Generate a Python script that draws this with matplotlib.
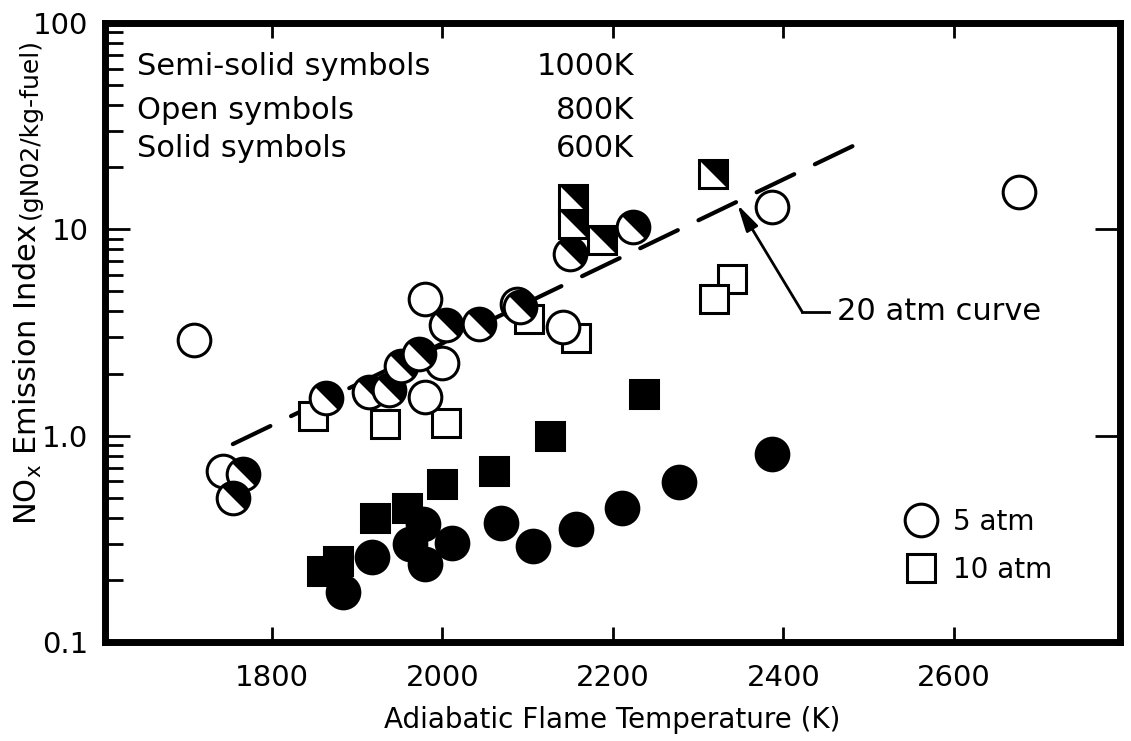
import numpy as np
import matplotlib
matplotlib.use("Agg")
import matplotlib.pyplot as plt
from matplotlib.lines import Line2D
from matplotlib.ticker import FixedLocator, LogLocator, NullFormatter

# ---------------- data ----------------
# 5 atm, 800 K (open circles)
open_circ_T = [1709, 1743, 1980, 2000, 1980, 2087, 2141, 2387, 2676]
open_circ_EI = [2.92, 0.675, 4.61, 2.24, 1.54, 4.36, 3.38, 12.8, 15.1]

# 5 atm, 1000 K (semi-solid circles)
semi_circ_T = [1766, 1754, 1863, 1914, 1937, 1951, 1972, 2004, 2043, 2091, 2150, 2223]
semi_circ_EI = [0.653, 0.50, 1.52, 1.62, 1.66, 2.17, 2.48, 3.42, 3.49, 4.22, 7.6, 10.3]

# 5 atm, 600 K (solid circles)
solid_circ_T = [1883, 1917, 1977, 1962, 1979, 2011, 2069, 2106, 2157, 2211, 2278, 2387]
solid_circ_EI = [0.174, 0.257, 0.375, 0.30, 0.24, 0.303, 0.378, 0.293, 0.354, 0.447, 0.597, 0.815]

# 10 atm, 800 K (open squares)
open_sq_T = [1848, 1932, 2004, 2102, 2157, 2340, 2319]
open_sq_EI = [1.24, 1.14, 1.15, 3.69, 2.96, 5.76, 4.61]

# 10 atm, 1000 K (semi-solid squares)
semi_sq_T = [2153, 2153, 2187, 2317]
semi_sq_EI = [14.0, 10.6, 8.88, 18.5]

# 10 atm, 600 K (solid squares)
solid_sq_T = [1859, 1877, 1921, 1958, 2000, 2061, 2126, 2237]
solid_sq_EI = [0.222, 0.248, 0.40, 0.448, 0.584, 0.675, 0.995, 1.60]

# 20 atm curve (dashed)
curve_T = [1754, 2483]
curve_EI = [0.91, 25.5]

x_ticks = [1800, 2000, 2200, 2400, 2600]
y_ticks = [0.1, 1.0, 10, 100]
y_tick_labels = ["0.1", "1.0", "10", "100"]

# ---------------- styling ----------------
plt.rcParams["font.family"] = ["DejaVu Sans"]
FS = 22
TFS = 21
fig = plt.figure(figsize=(11.31, 7.41), dpi=100)
ax = fig.add_axes([0.09284, 0.1336, 0.8974, 0.8354])
ax.set_yscale("log")
ax.set_xlim(1604, 2795)
ax.set_ylim(0.1, 100)

CIRC_MS = 23.5
SQ_MS = 20
EW = 2.2

# semi-solid overlay shapes (upper-right half black)
t = np.linspace(-np.pi / 4, 3 * np.pi / 4, 60)
half_disk = list(zip(np.cos(t), np.sin(t)))
half_square = [(-1, 1), (1, 1), (1, -1)]

# dashed 20 atm curve
ax.plot(curve_T, curve_EI, color="black", lw=3.0, dashes=(10, 5.5),
        dash_capstyle="round", zorder=2)

# open markers
ax.plot(open_sq_T, open_sq_EI, ls="none", marker="s", ms=SQ_MS, mfc="white", mec="black", mew=EW, zorder=3)
ax.plot(open_circ_T, open_circ_EI, ls="none", marker="o", ms=CIRC_MS, mfc="white", mec="black", mew=EW, zorder=3)

# semi-solid circles
for Tv, Ev in zip(semi_circ_T, semi_circ_EI):
    ax.plot([Tv], [Ev], ls="none", marker="o", ms=CIRC_MS, mfc="white", mec="black", mew=EW, zorder=4)
    ax.plot([Tv], [Ev], ls="none", marker=half_disk, ms=CIRC_MS, mfc="black", mec="black", mew=0.5, zorder=4)

# semi-solid squares
for Tv, Ev in zip(semi_sq_T, semi_sq_EI):
    ax.plot([Tv], [Ev], ls="none", marker="s", ms=SQ_MS, mfc="white", mec="black", mew=EW, zorder=4)
    ax.plot([Tv], [Ev], ls="none", marker=half_square, ms=SQ_MS, mfc="black", mec="black", mew=0.5, zorder=4)

# solid markers
ax.plot(solid_sq_T, solid_sq_EI, ls="none", marker="s", ms=SQ_MS, mfc="black", mec="black", mew=EW, zorder=5)
ax.plot(solid_circ_T, solid_circ_EI, ls="none", marker="o", ms=CIRC_MS, mfc="black", mec="black", mew=EW, zorder=5)

# ---------------- axes decoration ----------------
for side in ["left", "bottom", "top", "right"]:
    ax.spines[side].set_linewidth(5)
    ax.spines[side].set_capstyle("projecting")

ax.xaxis.set_major_locator(FixedLocator(x_ticks))
ax.set_xticklabels([str(v) for v in x_ticks], fontsize=TFS)
ax.yaxis.set_major_locator(FixedLocator(y_ticks))
ax.yaxis.set_minor_locator(LogLocator(base=10, subs=np.arange(2, 10)))
ax.yaxis.set_minor_formatter(NullFormatter())
ax.set_yticklabels(y_tick_labels, fontsize=TFS)

ax.tick_params(axis="x", which="major", direction="in", length=11, width=2, top=True, pad=16)
ax.tick_params(axis="y", which="major", direction="in", length=18, width=2, right=True, pad=12)
ax.tick_params(axis="y", which="minor", direction="in", length=13, width=2, right=False)

ax.set_xlabel("Adiabatic Flame Temperature (K)", fontsize=20, labelpad=10)

# y label in two parts (large + small)
fig.text(0.025, 0.2915, r"NO$_\mathregular{x}$ Emission Index", rotation=90, fontsize=FS,
         ha="center", va="bottom")
fig.text(0.026, 0.7045, "(gN02/kg-fuel)", rotation=90, fontsize=18, ha="center", va="bottom")

# symbol key (top-left)
rows = [("Semi-solid symbols", "1000K", 0.929), ("Open symbols", "800K", 0.859), ("Solid symbols", "600K", 0.798)]
for lab, temp, yy in rows:
    ax.text(0.032, yy, lab, transform=ax.transAxes, fontsize=FS, ha="left", va="center")
    ax.text(0.521, yy, temp, transform=ax.transAxes, fontsize=FS, ha="right", va="center")

# 20 atm curve annotation
ax.annotate("", xy=(2346, 13.2), xytext=(2422, 3.99),
            arrowprops=dict(arrowstyle="-|>,head_length=0.9,head_width=0.22", lw=2, color="black",
                            shrinkA=0, shrinkB=0, mutation_scale=18))
ax.plot([2422, 2454], [3.99, 3.99], color="black", lw=2)
ax.text(2463, 3.99, "20 atm curve", fontsize=FS, ha="left", va="center")

# pressure key (bottom-right)
handles = [Line2D([], [], ls="none", marker="o", ms=CIRC_MS, mfc="white", mec="black", mew=EW),
           Line2D([], [], ls="none", marker="s", ms=SQ_MS, mfc="white", mec="black", mew=EW)]
ax.legend(handles, ["5 atm", "10 atm"], loc="center left", bbox_to_anchor=(0.7877, 0.1553),
          frameon=False, fontsize=20, handlelength=1.2, handletextpad=0.55, borderpad=0,
          borderaxespad=0, labelspacing=0.74, numpoints=1)

fig.savefig("out.png", dpi=100)
